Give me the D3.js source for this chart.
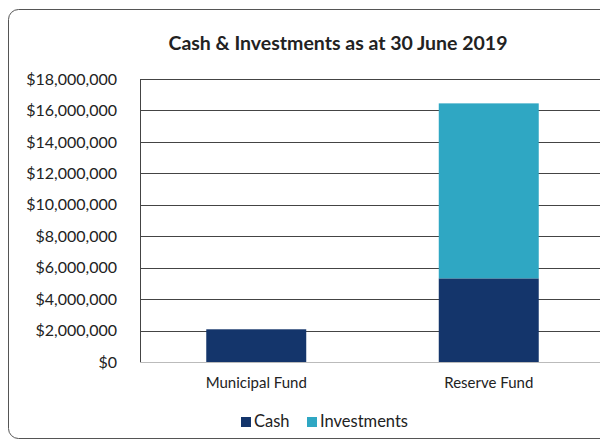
<!DOCTYPE html>
<html>
<head>
<meta charset="utf-8">
<script src="https://cdn.jsdelivr.net/npm/d3@7"></script>
<style>
  body { margin: 0; background: #fff; }
  svg text { font-family: Lato, "Open Sans", sans-serif; }
</style>
</head>
<body>
<div id="wrapper"></div>
<script>
const categories = ["Municipal Fund", "Reserve Fund"];
const seriesNames = ["Cash", "Investments"];
const cashValues = [2080000, 5320000];
const investmentValues = [0, 11130000];
const yTicks = [0, 2000000, 4000000, 6000000, 8000000, 10000000, 12000000, 14000000, 16000000, 18000000];
const colors = ["#14356b", "#2fa7c3"];

function drawChart() {
  const dimensions = {
    width: 600,
    height: 441,
    margin: { top: 79, right: -5, bottom: 79, left: 140 }
  };
  dimensions.boundedWidth = dimensions.width - dimensions.margin.left - dimensions.margin.right;
  dimensions.boundedHeight = dimensions.height - dimensions.margin.top - dimensions.margin.bottom;

  const table = categories.map((c, i) => ({
    category: c,
    Cash: cashValues[i],
    Investments: investmentValues[i]
  }));

  const wrapper = d3.select("#wrapper")
    .append("svg")
    .attr("width", dimensions.width)
    .attr("height", dimensions.height);

  // chart frame
  wrapper.append("rect")
    .attr("x", 8.5)
    .attr("y", 9.5)
    .attr("width", 620)
    .attr("height", 429)
    .attr("rx", 10)
    .attr("fill", "#fff")
    .attr("stroke", "#555")
    .attr("stroke-width", 1);

  wrapper.append("text")
    .attr("x", 338)
    .attr("y", 50)
    .attr("text-anchor", "middle")
    .style("font-size", "19.5px")
    .style("font-weight", "bold")
    .attr("fill", "#222")
    .text("Cash & Investments as at 30 June 2019");

  const bounds = wrapper.append("g")
    .attr("transform", `translate(${dimensions.margin.left}, ${dimensions.margin.top})`);

  const xScale = d3.scaleBand()
    .domain(categories)
    .range([0, dimensions.boundedWidth])
    .paddingInner(0.57)
    .paddingOuter(0.285);

  const yScale = d3.scaleLinear()
    .domain([0, 18000000])
    .range([dimensions.boundedHeight, 0]);

  // gridlines
  bounds.append("g")
    .selectAll("line")
    .data(yTicks)
    .join("line")
    .attr("x1", 0)
    .attr("x2", dimensions.boundedWidth)
    .attr("y1", d => Math.round(yScale(d)) + 0.5)
    .attr("y2", d => Math.round(yScale(d)) + 0.5)
    .attr("stroke", d => d === 0 ? "#bbb" : "#444")
    .attr("stroke-width", 1);

  // y axis
  const yAxis = bounds.append("g")
    .call(d3.axisLeft(yScale)
      .tickValues(yTicks)
      .tickSize(0)
      .tickPadding(23)
      .tickFormat(d => "$" + d3.format(",")(d)));
  yAxis.select(".domain")
    .attr("stroke", "#444")
    .attr("d", `M0.5,0V${dimensions.boundedHeight}`);
  yAxis.selectAll("text")
    .style("font-size", "16px")
    .style("font-family", "Lato, 'Open Sans', sans-serif")
    .attr("fill", "#222");

  const stack = d3.stack().keys(seriesNames);
  const stacked = stack(table);

  bounds.append("g")
    .selectAll("g")
    .data(stacked)
    .join("g")
    .attr("fill", (d, i) => colors[i])
    .selectAll("rect")
    .data(d => d)
    .join("rect")
    .attr("x", d => xScale(d.data.category))
    .attr("y", d => yScale(d[1]))
    .attr("width", xScale.bandwidth())
    .attr("height", d => yScale(d[0]) - yScale(d[1]));

  // x axis labels
  const xAxis = bounds.append("g")
    .attr("transform", `translate(0, ${dimensions.boundedHeight})`)
    .call(d3.axisBottom(xScale).tickSize(0).tickPadding(15));
  xAxis.select(".domain").remove();
  xAxis.selectAll("text")
    .style("font-size", "15px")
    .style("font-family", "Lato, 'Open Sans', sans-serif")
    .attr("fill", "#222");

  // legend
  const legend = wrapper.append("g")
    .attr("transform", "translate(241, 427)");
  const legendX = [0, 66];
  const items = legend.selectAll("g")
    .data(seriesNames)
    .join("g")
    .attr("transform", (d, i) => `translate(${legendX[i]}, 0)`);
  items.append("rect")
    .attr("x", 0)
    .attr("y", -10)
    .attr("width", 10)
    .attr("height", 10)
    .attr("fill", (d, i) => colors[i]);
  items.append("text")
    .attr("x", 13)
    .attr("y", 0)
    .style("font-size", "16.5px")
    .attr("fill", "#222")
    .text(d => d);
}

drawChart();
</script>
</body>
</html>
